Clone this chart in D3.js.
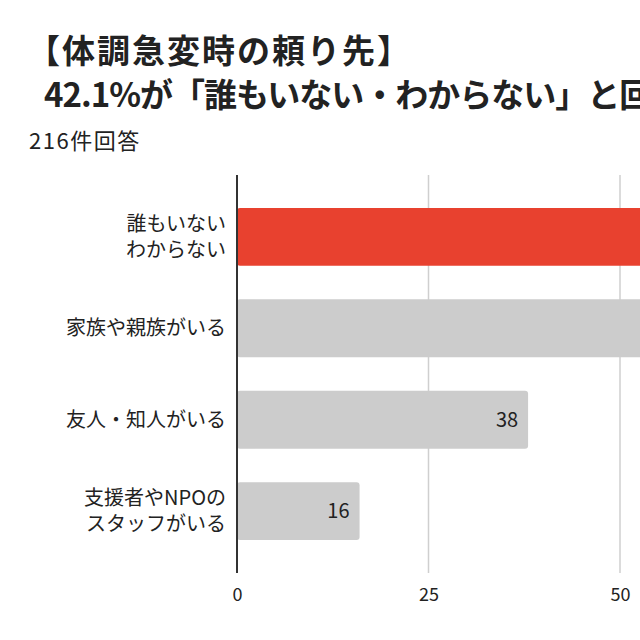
<!DOCTYPE html>
<html>
<head>
<meta charset="utf-8">
<script src="https://cdn.jsdelivr.net/npm/d3@7"></script>
<style>
body { margin: 0; background: #fff; }
svg { display: block; }
text { font-family: "Noto Sans CJK JP", "Noto Sans", sans-serif; fill: #222; }
</style>
</head>
<body>
<script>
// data
var categories = ["誰もいない\nわからない", "家族や親族がいる", "友人・知人がいる", "支援者やNPOの\nスタッフがいる"];
var values = [91, 71, 38, 16];
var barColors = ["#e8412f", "#cccccc", "#cccccc", "#cccccc"];
var tickValues = [0, 25, 50];
var titleLines = ["【体調急変時の頼り先】", "42.1%が「誰もいない・わからない」と回答"];
var subtitle = "216件回答";

var W = 640, H = 640;
var svg = d3.select('body').append('svg').attr('width', W).attr('height', H);

var x = d3.scaleLinear().domain([0, 100]).range([237, 1003]);
var y = d3.scaleBand().domain(d3.range(categories.length)).range([175, 573]).paddingInner(0.366).paddingOuter(0.36);

// titles
svg.append('text').attr('x', 27).attr('y', 63).attr('font-size', 33).attr('font-weight', 'bold').attr('letter-spacing', 2).text(titleLines[0]);
svg.append('text').attr('x', 44).attr('y', 107).attr('font-size', 33).attr('font-weight', 'bold').attr('letter-spacing', -1).text(titleLines[1]);
svg.append('text').attr('x', 29).attr('y', 149).attr('font-size', 22).attr('letter-spacing', 1.5).text(subtitle);

// grid lines
svg.append('g').selectAll('line').data(tickValues.filter(function(d) { return d > 0; })).enter().append('line')
    .attr('x1', function(d) { return x(d); }).attr('x2', function(d) { return x(d); })
    .attr('y1', 175).attr('y2', 573)
    .attr('stroke', '#cfcfcf').attr('stroke-width', 1.5);

// bars
svg.append('g').selectAll('rect').data(values).enter().append('rect')
    .attr('x', x(0)).attr('y', function(d, i) { return y(i); })
    .attr('width', function(d) { return x(d) - x(0); })
    .attr('height', y.bandwidth())
    .attr('rx', 3)
    .attr('fill', function(d, i) { return barColors[i]; });

// value labels (only the ones that land inside the picture)
svg.append('g').selectAll('text').data(values.filter(function(d) { return x(d) < W; })).enter().append('text')
    .attr('x', function(d) { return x(d) - 10; })
    .attr('y', function(d) { return y(values.indexOf(d)) + y.bandwidth() / 2; })
    .attr('dy', '0.36em')
    .attr('text-anchor', 'end').attr('font-size', 20)
    .text(function(d) { return d; });

// zero axis line
svg.append('line').attr('x1', x(0)).attr('x2', x(0)).attr('y1', 175).attr('y2', 573)
    .attr('stroke', '#333').attr('stroke-width', 2);

// category labels, one text per line
categories.forEach(function(d, i) {
    var lines = d.split('\n');
    var cy = y(i) + y.bandwidth() / 2;
    lines.forEach(function(l, j) {
        svg.append('text').attr('x', 226)
            .attr('y', cy + (j - (lines.length - 1) / 2) * 26)
            .attr('dy', '0.36em').attr('text-anchor', 'end').attr('font-size', 20).text(l);
    });
});

// x tick labels
var xAxis = d3.axisBottom(x).tickValues(tickValues).tickSize(0).tickPadding(0);
var gx = svg.append('g').attr('transform', 'translate(0,585)').call(xAxis);
gx.select('.domain').remove();
gx.selectAll('text').attr('font-size', 18).attr('font-family', '"Noto Sans CJK JP", sans-serif').attr('fill', '#222').attr('dy', '0.9em');
</script>
</body>
</html>
